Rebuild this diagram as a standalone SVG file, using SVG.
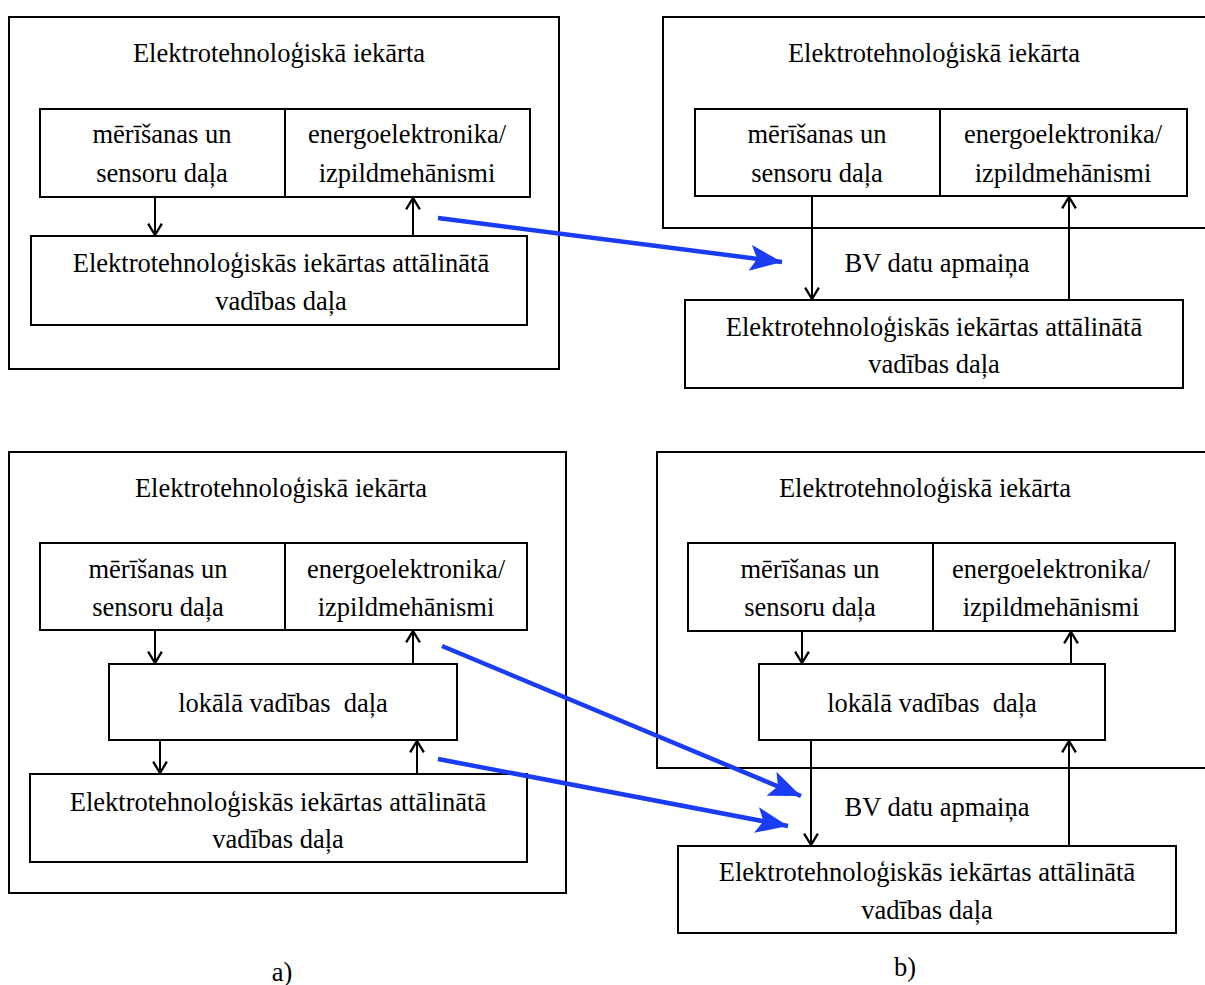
<svg xmlns="http://www.w3.org/2000/svg" width="1205" height="985" viewBox="0 0 1205 985">
<style>
.box{fill:none;stroke:#000;stroke-width:2}
.t{font-family:'Liberation Serif','DejaVu Serif','Times New Roman',serif;font-size:26.5px;fill:#000;text-anchor:middle}
.c{stroke:#000;stroke-width:2;fill:none}
.b{stroke:#1a3cf5;stroke-width:4.5;fill:none}
</style>
<defs>
<marker id="open" markerUnits="userSpaceOnUse" markerWidth="16" markerHeight="16" refX="12" refY="7" orient="auto" viewBox="0 0 14 14">
<path d="M2,1 L12,7 L2,13" fill="none" stroke="#000" stroke-width="2"/>
</marker>
<marker id="blue" markerUnits="userSpaceOnUse" markerWidth="34" markerHeight="28" refX="32" refY="14" orient="auto" viewBox="0 0 34 28">
<path d="M0,1 L32,14 L0,27 L7,14 Z" fill="#1a3cf5"/>
</marker>
</defs>
<rect width="1205" height="985" fill="#fff"/>

<!-- Top-left -->
<g id="tl-outer"><rect class="box" x="9" y="17" width="550" height="352"/><text class="t" x="279" y="62">Elektrotehnoloģiskā iekārta</text></g>
<g id="tl-meas"><rect class="box" x="40" y="109" width="245" height="88"/><text class="t" x="162" y="143">mērīšanas un</text><text class="t" x="162" y="182">sensoru daļa</text></g>
<g id="tl-power"><rect class="box" x="285" y="109" width="245" height="88"/><text class="t" x="407" y="143">energoelektronika/</text><text class="t" x="407" y="182">izpildmehānismi</text></g>
<g id="tl-remote"><rect class="box" x="31" y="236" width="496" height="89"/><text class="t" x="281" y="272">Elektrotehnoloģiskās iekārtas attālinātā</text><text class="t" x="281" y="310">vadības daļa</text></g>

<!-- Top-right -->
<g id="tr-outer"><path class="box" d="M1205,17 H663 V228 H1205"/><text class="t" x="934" y="62">Elektrotehnoloģiskā iekārta</text></g>
<g id="tr-meas"><rect class="box" x="695" y="109" width="245" height="87"/><text class="t" x="817" y="143">mērīšanas un</text><text class="t" x="817" y="182">sensoru daļa</text></g>
<g id="tr-power"><rect class="box" x="940" y="109" width="247" height="87"/><text class="t" x="1063" y="143">energoelektronika/</text><text class="t" x="1063" y="182">izpildmehānismi</text></g>
<g id="tr-bv"><text class="t" x="937" y="272">BV datu apmaiņa</text></g>
<g id="tr-remote"><rect class="box" x="685" y="300" width="498" height="88"/><text class="t" x="934" y="336">Elektrotehnoloģiskās iekārtas attālinātā</text><text class="t" x="934" y="373">vadības daļa</text></g>

<!-- Bottom-left -->
<g id="bl-outer"><rect class="box" x="9" y="452" width="557" height="441"/><text class="t" x="281" y="497">Elektrotehnoloģiskā iekārta</text></g>
<g id="bl-meas"><rect class="box" x="40" y="543" width="245" height="87"/><text class="t" x="158" y="578">mērīšanas un</text><text class="t" x="158" y="616">sensoru daļa</text></g>
<g id="bl-power"><rect class="box" x="285" y="543" width="242" height="87"/><text class="t" x="406" y="578">energoelektronika/</text><text class="t" x="406" y="616">izpildmehānismi</text></g>
<g id="bl-local"><rect class="box" x="109" y="664" width="348" height="76"/><text class="t" x="283" y="712" xml:space="preserve">lokālā vadības  daļa</text></g>
<g id="bl-remote"><rect class="box" x="30" y="774" width="497" height="88"/><text class="t" x="278" y="811">Elektrotehnoloģiskās iekārtas attālinātā</text><text class="t" x="278" y="848">vadības daļa</text></g>

<!-- Bottom-right -->
<g id="br-outer"><path class="box" d="M1205,452 H657 V768 H1205"/><text class="t" x="925" y="497">Elektrotehnoloģiskā iekārta</text></g>
<g id="br-meas"><rect class="box" x="688" y="543" width="245" height="88"/><text class="t" x="810" y="578">mērīšanas un</text><text class="t" x="810" y="616">sensoru daļa</text></g>
<g id="br-power"><rect class="box" x="933" y="543" width="242" height="88"/><text class="t" x="1051" y="578">energoelektronika/</text><text class="t" x="1051" y="616">izpildmehānismi</text></g>
<g id="br-local"><rect class="box" x="759" y="664" width="346" height="76"/><text class="t" x="932" y="712" xml:space="preserve">lokālā vadības  daļa</text></g>
<g id="br-bv"><text class="t" x="937" y="816">BV datu apmaiņa</text></g>
<g id="br-remote"><rect class="box" x="678" y="846" width="498" height="87"/><text class="t" x="927" y="881">Elektrotehnoloģiskās iekārtas attālinātā</text><text class="t" x="927" y="919">vadības daļa</text></g>

<g id="labels"><text class="t" x="282" y="981">a)</text><text class="t" x="905" y="976">b)</text></g>

<g id="connectors">
<line class="c" x1="155" y1="197" x2="155" y2="235" marker-end="url(#open)"/>
<line class="c" x1="413" y1="236" x2="413" y2="198" marker-end="url(#open)"/>
<line class="c" x1="812" y1="196" x2="812" y2="299" marker-end="url(#open)"/>
<line class="c" x1="1069" y1="300" x2="1069" y2="197" marker-end="url(#open)"/>

<line class="c" x1="155" y1="630" x2="155" y2="663" marker-end="url(#open)"/>
<line class="c" x1="413" y1="664" x2="413" y2="631" marker-end="url(#open)"/>
<line class="c" x1="160" y1="740" x2="160" y2="773" marker-end="url(#open)"/>
<line class="c" x1="417" y1="774" x2="417" y2="741" marker-end="url(#open)"/>

<line class="c" x1="802" y1="631" x2="802" y2="663" marker-end="url(#open)"/>
<line class="c" x1="1071" y1="664" x2="1071" y2="632" marker-end="url(#open)"/>
<line class="c" x1="811" y1="740" x2="811" y2="845" marker-end="url(#open)"/>
<line class="c" x1="1069" y1="846" x2="1069" y2="741" marker-end="url(#open)"/>

<line class="b" x1="438" y1="218" x2="782" y2="262" marker-end="url(#blue)"/>
<line class="b" x1="442" y1="646" x2="801" y2="796" marker-end="url(#blue)"/>
<line class="b" x1="438" y1="759" x2="788" y2="826" marker-end="url(#blue)"/>
</g>
</svg>
